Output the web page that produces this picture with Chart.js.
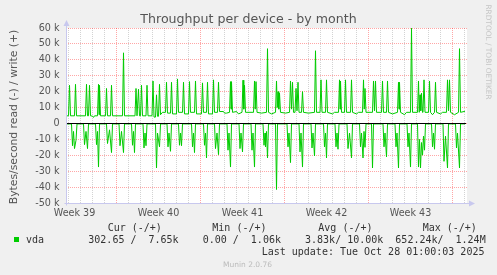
<!DOCTYPE html>
<html lang="en">
<head>
<meta charset="UTF-8">
<title>Throughput per device - by month</title>
<script src="https://cdn.jsdelivr.net/npm/chart.js"></script>
<style>
  html, body { margin: 0; padding: 0; background: #f0f0f0; }
  #wrap { position: relative; width: 497px; height: 275px; overflow: hidden; font-family: "DejaVu Sans", sans-serif; }
  #chart { position: absolute; left: 0; top: 0; }
  .t { position: absolute; white-space: pre; }
  .mono { font-family: "DejaVu Sans Mono", monospace; font-size: 10px; line-height: 12px; color: #333; }
</style>
</head>
<body>
<div id="wrap">
  <canvas id="chart" width="497" height="275"></canvas>
  <div class="t" style="left:0;top:10.8px;width:497px;text-align:center;font-size:12.6px;line-height:15px;color:#555;">Throughput per device - by month</div>
  <div class="t" style="left:-86px;top:110px;width:200px;height:14px;text-align:center;font-size:10.8px;line-height:14px;color:#555;transform:rotate(-90deg);">Bytes/second read (-) / write (+)</div>
  <div class="t" style="left:428px;top:47px;width:120px;height:10px;text-align:center;font-size:7.4px;line-height:10px;color:#c4c4c4;transform:rotate(90deg);">RRDTOOL / TOBI OETIKER</div>

  <div class="t mono" style="left:107.7px;top:221.5px;">Cur (-/+)</div>
  <div class="t mono" style="left:212.3px;top:221.5px;">Min (-/+)</div>
  <div class="t mono" style="left:318.3px;top:221.5px;">Avg (-/+)</div>
  <div class="t mono" style="left:422.7px;top:221.5px;">Max (-/+)</div>
  <div class="t" style="left:14px;top:237px;width:5px;height:5px;background:#00cc00;"></div>
  <div class="t mono" style="left:26px;top:233.8px;">vda</div>
  <div class="t mono" style="left:88.3px;top:233.8px;">302.65 /  7.65k    0.00 /  1.06k    3.83k/ 10.00k  652.24k/  1.24M</div>
  <div class="t mono" style="left:261.7px;top:245.5px;">Last update: Tue Oct 28 01:00:03 2025</div>
  <div class="t" style="left:0;top:259.5px;width:495px;text-align:center;font-size:7.5px;line-height:9px;color:#bbb;">Munin 2.0.76</div>
</div>

<script>
  // hours relative to Mon Sep 29 00:00 (start of week 40), one sample = 2 h
  const weekLabels = ['Week 39', 'Week 40', 'Week 41', 'Week 42', 'Week 43'];
  const weekLabelHours = [-84, 84, 252, 420, 588];
  const weekStartHours = [0, 168, 336, 504, 672];

  // write (+), k bytes/s
  const writeHours = [
    -101,
    -96, -94, -92,
    -84, -82, -80,
    -62, -60, -58, -56, -54, -52,
    -48, -46, -44,
    -38, -36, -35, -34, -32,
    -22, -20, -18,
    -12, -10, -8,
    12, 14, 16,
    37, 39, 41, 42, 44, 46, 48, 50, 52,
    59, 61, 63,
    71, 73, 75, 78, 80, 82, 84, 86, 88, 92,
    98, 100, 102,
    108, 110, 112,
    120, 122, 124,
    132, 134, 136,
    144, 146, 148,
    156, 158, 160,
    170, 172, 174,
    180, 182, 184,
    192, 194, 196,
    202, 204, 206, 214, 216, 220,
    226, 228, 229, 230, 232,
    240, 244,
    251, 253, 254.5, 256, 258,
    274, 276, 277.5, 279, 281, 290,
    300, 302, 304, 310,
    318, 320, 321.5, 323, 324.5, 326, 328, 338,
    346, 348, 350, 352, 354, 357, 359, 361, 363, 365,
    370, 372, 374, 384,
    396, 398, 400,
    407, 409, 411,
    418, 420, 422, 432, 436,
    444, 446, 447, 448, 450,
    456, 458, 460,
    468, 470, 472, 480, 484,
    492, 494, 495.5, 497, 499,
    512, 514, 516, 518, 520,
    530, 532, 534,
    540, 542, 544, 552,
    562, 564, 565, 566, 568, 576, 580,
    588, 590, 592,
    602, 604, 605.5, 607, 608.5, 610, 612, 613, 615, 617,
    624, 626, 628, 632,
    636, 638, 640, 648, 652,
    660, 662, 664, 666, 668, 676,
    684, 686, 688,
    697
  ];
  const writeK = [
    4.8,
    4.8, 24.0, 4.8,
    4.8, 24.6, 4.8,
    4.8, 24.6, 4.8, 4.8, 24.0, 4.8,
    4.6, 3.8, 4.8,
    4.8, 24.6, 5.5, 24.0, 4.8,
    4.8, 22.0, 4.8,
    4.8, 24.0, 4.8,
    4.8, 44.4, 4.8,
    4.8, 22.0, 4.8, 4.8, 21.5, 4.8, 4.8, 24.0, 4.8,
    4.8, 24.0, 4.8,
    4.8, 26.7, 4.0, 4.0, 18.0, 4.5, 4.5, 24.6, 5.5, 7.0,
    7.0, 25.9, 6.5,
    6.5, 25.9, 6.0,
    6.0, 28.0, 7.0,
    7.0, 25.9, 6.0,
    6.0, 26.3, 7.0,
    7.0, 26.7, 6.0,
    6.0, 25.5, 7.0,
    7.0, 25.9, 6.0,
    6.0, 27.4, 7.0,
    7.0, 25.9, 7.5, 7.5, 6.5, 6.5,
    7.0, 26.3, 9.0, 26.3, 7.0,
    7.5, 6.0,
    7.0, 27.2, 9.0, 24.0, 7.0,
    7.0, 26.7, 9.0, 26.3, 7.0, 6.5,
    7.0, 47.0, 7.0, 6.0,
    7.0, 26.7, 10.0, 20.0, 9.0, 19.0, 7.0, 6.5,
    7.0, 26.7, 9.0, 25.9, 7.0, 7.0, 22.0, 8.0, 25.9, 7.0,
    7.0, 20.0, 7.0, 6.5,
    7.0, 45.7, 7.0,
    7.0, 27.4, 7.0,
    7.0, 27.4, 7.0, 6.0, 7.0,
    7.0, 27.4, 9.0, 26.7, 7.0,
    7.0, 27.4, 7.0,
    7.0, 27.4, 7.0, 6.0, 7.0,
    7.0, 27.4, 9.0, 22.0, 7.0,
    7.0, 26.7, 8.0, 26.7, 7.0,
    7.0, 26.7, 7.0,
    7.0, 26.7, 7.0, 6.0,
    7.0, 25.9, 9.0, 25.9, 7.0, 5.5, 7.0,
    7.0, 60.0, 7.0,
    7.0, 26.7, 7.0, 18.0, 8.0, 19.0, 7.0, 7.0, 27.4, 7.0,
    7.0, 26.7, 7.0, 5.5,
    7.0, 25.9, 7.0, 6.0, 7.0,
    7.0, 27.4, 8.0, 27.4, 7.0, 5.5,
    7.0, 47.0, 7.0,
    7.65
  ];

  // read (-), k bytes/s
  const readHours = [
    -101,
    -90, -88, -86, -84, -81, -79,
    -66, -64, -61, -58, -56,
    -42, -40, -38, -36, -34,
    -20, -18, -14, -10, -8,
    5, 7, 10, 14, 16,
    30, 32, 34, 36, 38,
    53, 55, 57, 59, 61,
    78, 80, 82, 86, 88,
    101, 103, 105, 108, 110,
    124, 126, 128, 130, 132,
    150, 152, 154, 156, 158,
    174, 176, 178, 180, 182,
    196, 198, 201, 204, 206,
    221, 223, 225, 228, 230,
    245, 247, 249, 252, 254,
    269, 271, 273, 276, 278,
    293, 295, 297, 298, 300, 302, 304,
    318, 320, 322,
    341, 343, 345, 348, 350,
    365, 367, 369, 372, 374,
    389, 391, 393, 396, 398,
    414, 416, 418, 420, 422,
    437, 439, 441, 443, 445,
    461, 463, 466, 470, 472,
    486, 488, 490, 493, 495, 497, 499,
    510, 512, 514,
    533, 535, 537, 540, 542,
    557, 559, 561, 564, 566,
    581, 583, 585, 588, 590,
    602, 604, 606, 608, 610, 612, 614, 616, 618,
    630, 632, 634, 636, 638,
    653, 655, 658, 662, 664,
    678, 680, 682, 686, 688,
    697
  ];
  const readK = [
    -0.3,
    -0.3, -14.0, -5.0, -15.8, -10.5, -0.3,
    -0.3, -13.3, -5.0, -15.8, -0.3,
    -0.3, -13.3, -5.0, -27.4, -0.3,
    -0.3, -12.6, -4.0, -18.3, -0.3,
    -0.3, -14.0, -5.0, -18.3, -0.3,
    -0.3, -13.7, -5.0, -18.3, -0.3,
    -0.3, -15.4, -6.0, -14.0, -0.3,
    -0.3, -28.0, -6.0, -14.7, -0.3,
    -0.3, -14.7, -6.0, -17.5, -0.3,
    -0.3, -13.7, -6.0, -14.0, -0.3,
    -0.3, -14.7, -6.0, -18.3, -0.3,
    -0.3, -13.7, -6.0, -21.7, -0.3,
    -0.3, -15.8, -6.0, -19.6, -0.3,
    -0.3, -16.8, -6.0, -27.4, -0.3,
    -0.3, -15.8, -6.0, -17.9, -0.3,
    -0.3, -16.8, -6.0, -27.4, -0.3,
    -0.3, -13.7, -6.0, -14.7, -5.0, -21.7, -0.3,
    -0.3, -41.5, -0.3,
    -0.3, -14.7, -6.0, -24.6, -0.3,
    -0.3, -17.9, -6.0, -27.4, -0.3,
    -0.3, -15.4, -6.0, -20.4, -0.3,
    -0.3, -14.7, -6.0, -21.7, -0.3,
    -0.3, -14.7, -6.0, -16.2, -0.3,
    -0.3, -15.8, -6.0, -21.7, -0.3,
    -0.3, -14.7, -6.0, -21.7, -5.0, -15.0, -0.3,
    -0.3, -28.0, -0.3,
    -0.3, -14.7, -6.0, -21.0, -0.3,
    -0.3, -14.7, -6.0, -28.0, -0.3,
    -0.3, -14.7, -6.0, -27.4, -0.3,
    -0.3, -27.4, -10.0, -28.0, -12.0, -19.9, -8.0, -16.8, -0.3,
    -0.3, -14.7, -6.0, -16.2, -0.3,
    -0.3, -23.8, -8.0, -28.0, -0.3,
    -0.3, -15.4, -6.0, -28.0, -0.3,
    -0.3
  ];

  const writeData = writeHours.map((h, i) => ({ x: h, y: writeK[i] }));
  const readData = readHours.map((h, i) => ({ x: h, y: readK[i] }));

  // grid positions: every 12 h (days get a grey line, week starts a red one)
  const xTicks = [];
  for (let h = -96; h <= 696; h += 12) xTicks.push(h);
  const yTicks = [];
  for (let v = -50; v <= 60; v += 5) yTicks.push(v);

  const MAJOR = 'rgba(255, 0, 0, 0.35)';
  const MINOR = 'rgba(128, 128, 128, 0.35)';
  const AXIS = '#c8c8ee';

  const plotFrame = {
    id: 'plotFrame',
    beforeDraw(chart) {
      const { ctx, chartArea: a } = chart;
      ctx.save();
      ctx.fillStyle = '#fff';
      ctx.fillRect(a.left, a.top, a.right - a.left, a.bottom - a.top);
      ctx.restore();
    },
    afterDatasetsDraw(chart) {
      const { ctx, chartArea: a, scales } = chart;
      const y0 = Math.round(scales.y.getPixelForValue(0)) + 0.5;
      ctx.save();
      ctx.strokeStyle = '#000';
      ctx.lineWidth = 1;
      ctx.beginPath();
      ctx.moveTo(a.left, y0);
      ctx.lineTo(a.right - 1, y0);
      ctx.stroke();

      // axes with arrows
      const xl = a.left + 0.5, yb = a.bottom + 0.5;
      ctx.strokeStyle = AXIS;
      ctx.fillStyle = AXIS;
      ctx.beginPath();
      ctx.moveTo(xl, yb + 2);
      ctx.lineTo(xl, a.top - 4);
      ctx.moveTo(xl - 2, yb);
      ctx.lineTo(a.right + 4, yb);
      ctx.stroke();
      ctx.beginPath();
      ctx.moveTo(xl, a.top - 8);
      ctx.lineTo(xl - 3, a.top - 2);
      ctx.lineTo(xl + 3, a.top - 2);
      ctx.closePath();
      ctx.fill();
      ctx.beginPath();
      ctx.moveTo(a.right + 8, yb);
      ctx.lineTo(a.right + 2, yb - 3);
      ctx.lineTo(a.right + 2, yb + 3);
      ctx.closePath();
      ctx.fill();
      ctx.restore();
    }
  };

  new Chart(document.getElementById('chart'), {
    type: 'line',
    data: {
      datasets: [
        { label: 'vda write', data: writeData, borderColor: '#00cc00', borderWidth: 1, pointRadius: 0, tension: 0, fill: false },
        { label: 'vda read', data: readData, borderColor: '#00cc00', borderWidth: 1, pointRadius: 0, tension: 0, fill: false }
      ]
    },
    options: {
      responsive: false,
      animation: false,
      devicePixelRatio: 1,
      layout: { padding: { top: 28, right: 30, left: 0, bottom: 0 } },
      plugins: { legend: { display: false }, tooltip: { enabled: false }, title: { display: false } },
      scales: {
        x: {
          type: 'linear',
          min: -101,
          max: 701,
          afterBuildTicks: s => { s.ticks = xTicks.map(v => ({ value: v })); },
          afterFit: s => { s.height = 72; },
          grid: {
            drawTicks: false,
            lineWidth: 1,
            color: c => {
              const v = c.tick.value;
              if (weekStartHours.includes(v)) return MAJOR;
              if (v % 24 === 0) return MINOR;
              return 'rgba(0,0,0,0)';
            }
          },
          border: { display: false, dash: [1, 1] },
          ticks: {
            autoSkip: false,
            maxRotation: 0,
            padding: 5,
            color: '#555',
            font: { family: 'DejaVu Sans', size: 9.6 },
            callback: v => {
              const i = weekLabelHours.indexOf(v);
              return i >= 0 ? weekLabels[i] : '';
            }
          }
        },
        y: {
          min: -50,
          max: 60,
          afterBuildTicks: s => { s.ticks = yTicks.map(v => ({ value: v })); },
          afterFit: s => { s.width = 66; },
          grid: {
            drawTicks: false,
            lineWidth: 1,
            color: c => (c.tick.value % 10 === 0 ? MAJOR : MINOR)
          },
          border: { display: false, dash: [1, 1] },
          ticks: {
            padding: 6.5,
            color: '#555',
            font: { family: 'DejaVu Sans', size: 9.6 },
            callback: v => (v % 10 === 0 ? (v === 0 ? '0' : v + ' k') : '')
          }
        }
      }
    },
    plugins: [plotFrame]
  });
</script>
</body>
</html>
